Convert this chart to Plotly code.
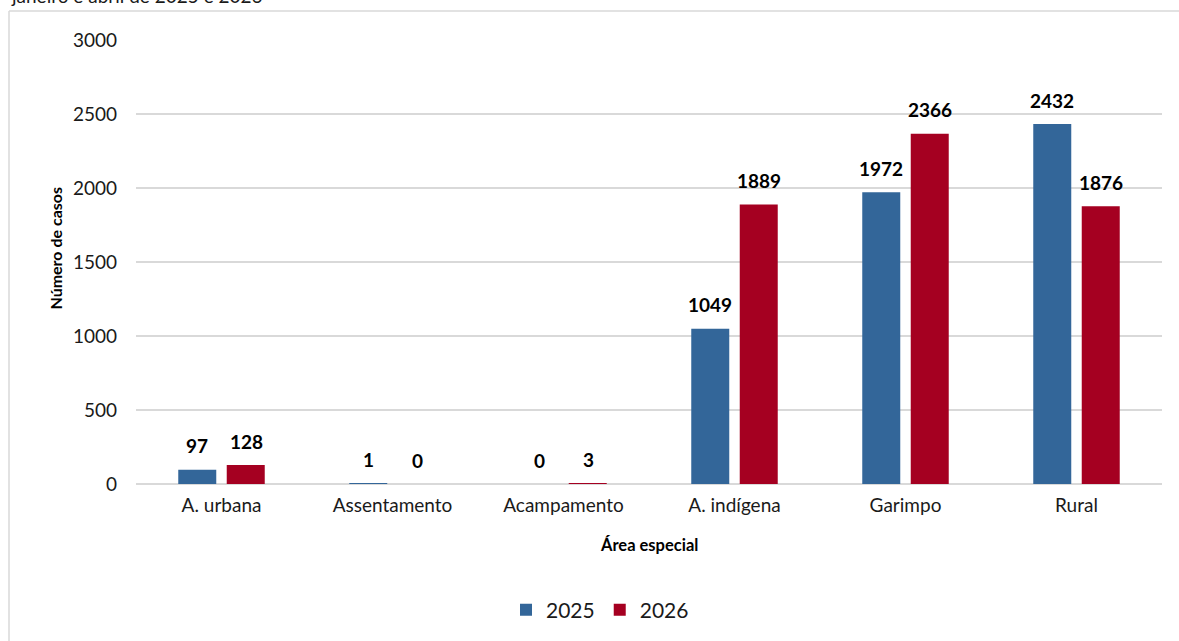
import plotly.graph_objects as go

categories = ["A. urbana", "Assentamento", "Acampamento", "A. indígena", "Garimpo", "Rural"]
casos_2025 = [97, 1, 0, 1049, 1972, 2432]
casos_2026 = [128, 0, 3, 1889, 2366, 1876]
series_names = ["2025", "2026"]
y_ticks = [0, 500, 1000, 1500, 2000, 2500, 3000]

FONT = "Lato"
BLUE = "#336699"
RED = "#A50021"
GRID = "#D9D9D9"

W, H = 1179, 641
L, R, T, B = 136, 17, 40, 156
PW, PH = W - L - R, H - T - B


def px_x(p):
    return (p - L) / PW


def px_y(p):
    return (H - B - p) / PH


fig = go.Figure()
fig.add_trace(go.Bar(x=categories, y=casos_2025, name=series_names[0], marker=dict(color=BLUE, line=dict(width=0))))
fig.add_trace(go.Bar(x=categories, y=casos_2026, name=series_names[1], marker=dict(color=RED, line=dict(width=0))))

annotations = []
for vals, shift in ((casos_2025, -24.5), (casos_2026, 24.5)):
    for c, v in zip(categories, vals):
        annotations.append(dict(x=c, y=v, xref="x", yref="y", text=f"<b>{v}</b>", showarrow=False,
                                xshift=shift, yshift=24, yanchor="middle", xanchor="center",
                                font=dict(family=FONT, size=19, color="#000")))

# cut-off title line at the very top (as in the reference)
annotations.append(dict(x=px_x(9), y=px_y(9), xref="paper", yref="paper", text="janeiro e abril de 2025 e 2026",
                        showarrow=False, xanchor="left", yanchor="bottom",
                        font=dict(family=FONT, size=19, color="#1a1a1a")))
# axis titles
annotations.append(dict(x=px_x(649), y=px_y(546), xref="paper", yref="paper", text="<b>Área especial</b>",
                        showarrow=False, xanchor="center", yanchor="middle",
                        font=dict(family=FONT, size=16.5, color="#000")))
annotations.append(dict(x=px_x(56), y=px_y(249), xref="paper", yref="paper", text="<b>Número de casos</b>",
                        showarrow=False, xanchor="center", yanchor="middle", textangle=-90,
                        font=dict(family=FONT, size=16, color="#000")))

fig.update_layout(
    width=W, height=H,
    margin=dict(l=L, r=R, t=T, b=B, pad=0),
    paper_bgcolor="white", plot_bgcolor="white",
    barmode="group", bargap=0.433, bargroupgap=0.216,
    font=dict(family=FONT, size=19, color="#1a1a1a"),
    annotations=annotations,
    showlegend=True,
    legend=dict(orientation="h", x=px_x(600), xanchor="center", y=px_y(610), yanchor="middle",
                font=dict(family=FONT, size=21, color="#1a1a1a"), itemwidth=30,
                traceorder="normal", bgcolor="rgba(0,0,0,0)"),
    xaxis=dict(showgrid=False, showline=False, ticks="", tickfont=dict(size=19), ticklabelstandoff=8),
    yaxis=dict(range=[0, 3000], tickvals=y_ticks, showgrid=True, gridcolor=GRID, gridwidth=1.5,
               zeroline=True, zerolinecolor=GRID, zerolinewidth=1.5, showline=False, ticks="",
               tickfont=dict(size=19), ticklabelstandoff=18),
    shapes=[
        dict(type="line", xref="paper", yref="paper", x0=px_x(9), x1=1.2, y0=px_y(11), y1=px_y(11),
             line=dict(color=GRID, width=1.5)),
        dict(type="line", xref="paper", yref="paper", x0=px_x(9), x1=px_x(9), y0=px_y(11), y1=-0.5,
             line=dict(color=GRID, width=1.5)),
    ],
)

fig.write_html("out.html", config={"displayModeBar": False},
               post_script="document.body.style.margin='0';document.body.style.overflow='hidden';")
